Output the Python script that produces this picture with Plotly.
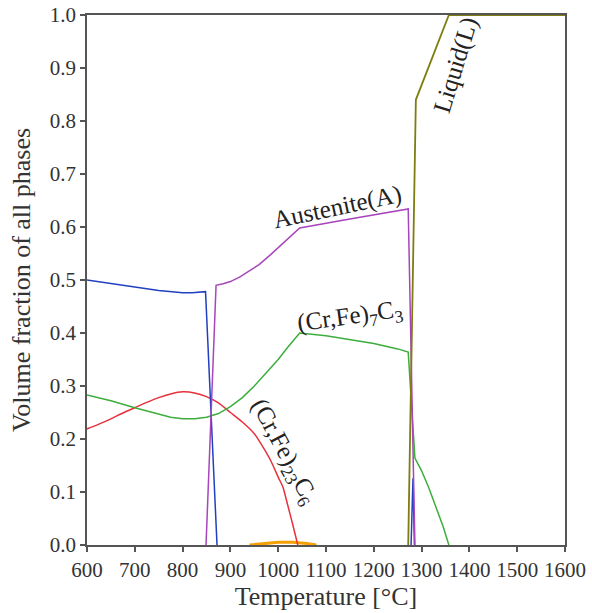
import plotly.graph_objects as go

# Ferrite (blue); None separates the small spike near 1280 °C
T_ferrite = [600, 650, 700, 750, 780, 800, 820, 835, 848, 872, None, 1278, 1282, 1285]
V_ferrite = [0.500, 0.494, 0.487, 0.480, 0.477, 0.476, 0.476, 0.477, 0.478, 0.0, None, 0.0, 0.126, 0.0]

# Austenite (purple)
T_austenite = [849, 870, 885, 900, 920, 940, 960, 983, 1000, 1015, 1030, 1045, 1150, 1272, 1286]
V_austenite = [0.0, 0.490, 0.493, 0.497, 0.506, 0.517, 0.529, 0.547, 0.561, 0.573, 0.586, 0.598, 0.615, 0.634, 0.0]

# (Cr,Fe)7C3 (green)
T_m7c3 = [600, 650, 700, 750, 775, 800, 825, 850, 875, 900, 925, 950, 975, 1000, 1020, 1035, 1045,
          1100, 1150, 1200, 1250, 1272, 1286, 1300, 1315, 1330, 1345, 1357]
V_m7c3 = [0.283, 0.272, 0.259, 0.247, 0.241, 0.238, 0.238, 0.241, 0.248, 0.261, 0.278, 0.300, 0.325, 0.350, 0.373, 0.390, 0.400,
          0.395, 0.388, 0.380, 0.370, 0.364, 0.164, 0.140, 0.108, 0.072, 0.035, 0.0]

# (Cr,Fe)23C6 (red)
T_m23c6 = [600, 625, 650, 675, 700, 725, 750, 775, 800, 825, 850, 875, 900, 925, 950, 968, 985, 1000, 1010, 1020, 1030, 1041]
V_m23c6 = [0.219, 0.228, 0.238, 0.249, 0.259, 0.269, 0.278, 0.285, 0.289, 0.287, 0.280, 0.268, 0.250, 0.232, 0.210, 0.185, 0.158, 0.128, 0.109, 0.075, 0.040, 0.0]

# Minor phase (orange)
T_minor = [940, 970, 1000, 1030, 1060, 1080]
V_minor = [0.0, 0.003, 0.005, 0.005, 0.003, 0.0]

# Liquid (olive)
T_liquid = [1272, 1288, 1357, 1600]
V_liquid = [0.0, 0.840, 1.0, 1.0]

x_ticks = [600, 700, 800, 900, 1000, 1100, 1200, 1300, 1400, 1500, 1600]
y_ticks = [0.0, 0.1, 0.2, 0.3, 0.4, 0.5, 0.6, 0.7, 0.8, 0.9, 1.0]

FONT = "Liberation Serif"

fig = go.Figure()
series = [
    (T_minor, V_minor, "#f5a000", 3, "linear"),
    (T_m23c6, V_m23c6, "#e8303c", 1.5, "spline"),
    (T_m7c3, V_m7c3, "#3cae3c", 1.5, "linear"),
    (T_ferrite, V_ferrite, "#2040c0", 1.5, "linear"),
    (T_austenite, V_austenite, "#a844bc", 1.5, "linear"),
    (T_liquid, V_liquid, "#7d7d10", 1.8, "linear"),
]
for xs, ys, c, w, shp in series:
    fig.add_trace(go.Scatter(x=xs, y=ys, mode="lines", connectgaps=False,
                             line=dict(color=c, width=w, shape=shp, smoothing=0.6),
                             showlegend=False, cliponaxis=False))

ann_font = dict(family=FONT, size=25, color="#222")
annotations = [
    dict(x=1125, y=0.638, text="Austenite(A)", textangle=-12),
    dict(x=1150, y=0.430, text="(Cr,Fe)<sub>7</sub>C<sub>3</sub>", textangle=-8),
    dict(x=1012, y=0.175, text="(Cr,Fe)<sub>23</sub>C<sub>6</sub>", textangle=62),
    dict(x=1372, y=0.905, text="Liquid(L)", textangle=-73),
]
for a in annotations:
    fig.add_annotation(xref="x", yref="y", showarrow=False, font=ann_font, **a)

axis_common = dict(showline=True, linecolor="#555", linewidth=1.5, mirror=True,
                   ticks="outside", ticklen=5, tickcolor="#555", tickwidth=1.5,
                   showgrid=False, zeroline=False, automargin=False, layer="below traces",
                   tickfont=dict(family=FONT, size=21, color="#333"))

fig.update_xaxes(range=[600, 1600], tickvals=x_ticks,
                 ticktext=[str(v) for v in x_ticks],
                 title=dict(text="Temperature [°C]", font=dict(family=FONT, size=26, color="#333"), standoff=4),
                 **axis_common)
fig.update_yaxes(range=[0, 1.0], tickvals=y_ticks,
                 ticktext=[f"{v:.1f}" for v in y_ticks],
                 title=dict(text="Volume fraction of all phases", font=dict(family=FONT, size=26, color="#333"), standoff=12),
                 **axis_common)

fig.update_layout(width=592, height=613, margin=dict(l=87, r=27, t=15, b=68),
                  paper_bgcolor="white", plot_bgcolor="white")

fig.write_html("out.html", config={"displayModeBar": False},
               post_script="document.body.style.margin='0';document.body.style.overflow='hidden';")
